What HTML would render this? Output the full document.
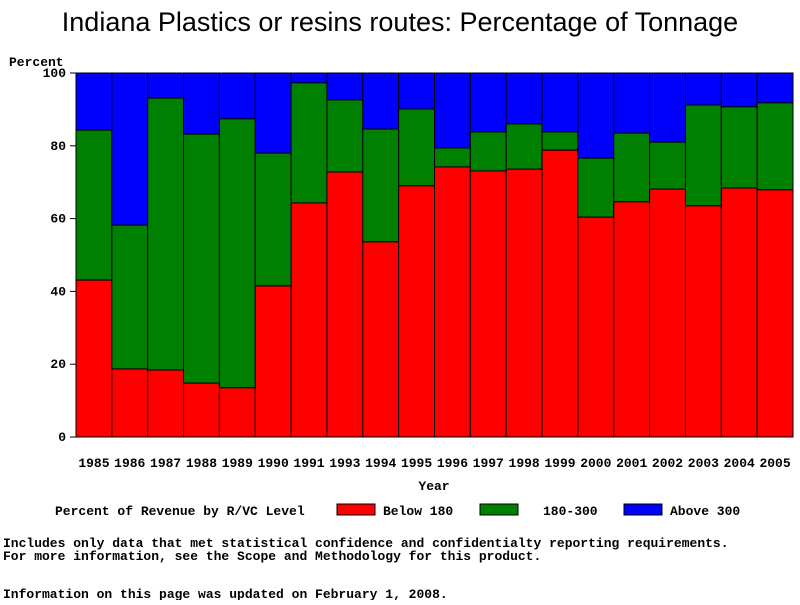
<!DOCTYPE html>
<html><head><meta charset="utf-8"><style>
body{margin:0;background:#fff;}
svg text{font-family:"Liberation Mono",monospace;font-size:13px;font-weight:bold;fill:#000;}
</style></head><body>
<svg width="800" height="600" id="c">
<text x="400" y="31" text-anchor="middle" style="font-family:'Liberation Sans',sans-serif;font-size:27px;font-weight:normal">Indiana Plastics or resins routes: Percentage of Tonnage</text>
<text x="9" y="66">Percent</text>
<text x="434" y="490" text-anchor="middle">Year</text>
<g id="plot"></g>
<g>
<text x="55" y="515">Percent of Revenue by R/VC Level</text>
<rect x="337" y="504" width="38" height="11" fill="#f00" stroke="#000"/>
<text x="383" y="515">Below 180</text>
<rect x="480" y="504" width="38" height="11" fill="#008000" stroke="#000"/>
<text x="543" y="515">180-300</text>
<rect x="624" y="504" width="38" height="11" fill="#00f" stroke="#000"/>
<text x="670" y="515">Above 300</text>
</g>
<text x="3" y="547">Includes only data that met statistical confidence and confidentialty reporting requirements.</text>
<text x="3" y="560">For more information, see the Scope and Methodology for this product.</text>
<text x="3" y="598">Information on this page was updated on February 1, 2008.</text>
</svg>
<script>
const years=["1985","1986","1987","1988","1989","1990","1991","1993","1994","1995","1996","1997","1998","1999","2000","2001","2002","2003","2004","2005"];
const below180=[43.1,18.7,18.4,14.8,13.5,41.5,64.3,72.8,53.6,69,74.2,73.1,73.6,78.8,60.4,64.6,68.1,63.5,68.4,67.9];
const mid180to300=[41.2,39.5,74.7,68.4,73.9,36.5,33,19.8,31,21.1,5.2,10.7,12.4,5,16.2,18.9,12.9,27.7,22.3,23.9];
const yTicks=[0,20,40,60,80,100];
const NS="http://www.w3.org/2000/svg";
const X0=76,X1=793,Y0=437,Y1=73;
const g=document.getElementById('plot');
const bw=(X1-X0)/years.length;
const y=v=>Y0-(v/100)*(Y0-Y1);
function mk(t,a){const e=document.createElementNS(NS,t);for(const k in a)e.setAttribute(k,a[k]);g.appendChild(e);return e;}
years.forEach((yr,i)=>{
 const x=X0+i*bw;
 const r=below180[i],m=mid180to300[i];
 let e=mk('rect',{x:x,y:y(100),width:bw,height:y(r+m)-y(100),fill:'#00f',stroke:'#000'});
 
 
 e=mk('rect',{x:x,y:y(r+m),width:bw,height:y(r)-y(r+m),fill:'#008000',stroke:'#000'});
 
 
 e=mk('rect',{x:x,y:y(r),width:bw,height:Y0-y(r),fill:'#f00',stroke:'#000'});
 
 
 const t=mk('text',{x:x+bw/2,y:467,'text-anchor':'middle'});t.textContent=yr;
 
 
});
const ax=mk('line',{x1:X0,y1:Y1,x2:X0,y2:Y0,stroke:'#000'});


yTicks.forEach(v=>{
 const l=mk('line',{x1:X0-6,x2:X0,y1:y(v),y2:y(v),stroke:'#000'});
 
 
 const t=mk('text',{x:X0-10,y:y(v)+4,'text-anchor':'end'});t.textContent=v;
 
 
});
</script>
</body></html>
